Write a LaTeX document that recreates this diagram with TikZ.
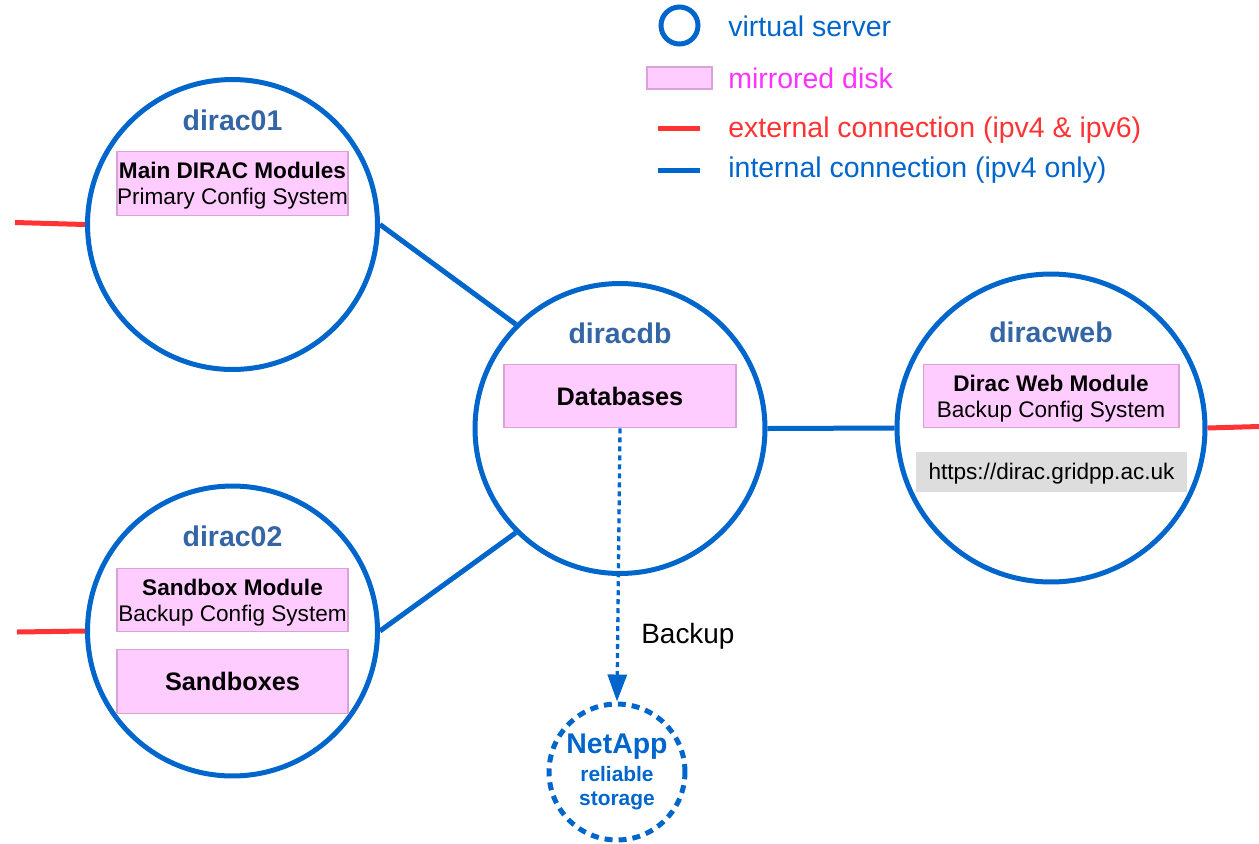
\documentclass[tikz,border=0pt]{standalone}
\usepackage{fontspec}
\setmainfont{Liberation Sans}
\usetikzlibrary{arrows.meta}
\definecolor{srv}{HTML}{0066CC}
\definecolor{lbl}{HTML}{3465A4}
\definecolor{extc}{HTML}{FF3333}
\definecolor{magc}{HTML}{FF33FF}
\definecolor{diskf}{HTML}{FFCCFF}
\definecolor{diskb}{HTML}{D9A3D9}
\definecolor{greyf}{HTML}{DDDDDD}
\newcommand\fLab{\fontsize{16.2}{19}\selectfont\bfseries}
\newcommand\fLeg{\fontsize{16.2}{19}\selectfont}
\newcommand\fBoxT{\fontsize{12.85}{14.7}\selectfont}
\newcommand\fBig{\fontsize{14.4}{17}\selectfont\bfseries}
\begin{document}
\begin{tikzpicture}[x=0.02cm,y=-0.02cm,
  server/.style={circle, draw=srv, line width=0.1cm, minimum size=5.8cm, inner sep=0},
  disk/.style={draw=diskb, fill=diskf, line width=0.6pt, inner sep=0, minimum width=4.62cm, minimum height=1.27cm, align=center, font=\fBoxT},
  twoline/.style={text depth=0pt},
  lab/.style={anchor=base, text=lbl, font=\fLab, inner sep=0},
  legtext/.style={anchor=base west, font=\fLeg, inner sep=0},
  extline/.style={draw=extc, line width=0.1cm},
  intline/.style={draw=srv, line width=0.1cm}]
\useasboundingbox (0,0) rectangle (1259,843);
% servers
\node[server] (d01) at (232.5,224.5) {};
\node[server] (d02) at (232.5,631) {};
\node[server] (ddb) at (620,428.5) {};
\node[server, minimum size=6.16cm] (dweb) at (1051,428) {};
% labels
\node[lab] (l01) at (232.5,130) {dirac01};
\node[lab] (l02) at (232.5,546) {dirac02};
\node[lab] (ldb) at (620,343) {diracdb};
\node[lab] (lweb) at (1051,342) {diracweb};
% disks
\node[disk, twoline] (b01) at (232.5,183.5) {\textbf{Main DIRAC Modules}\\Primary Config System};
\node[disk, twoline] (b02a) at (232.5,600) {\textbf{Sandbox Module}\\Backup Config System};
\node[disk, font=\fBig] (b02b) at (232.5,681.5) {Sandboxes};
\node[disk, font=\fBig, minimum width=4.64cm] (bdb) at (620,396) {Databases};
\node[disk, twoline, minimum width=5.12cm] (bweb) at (1051,396) {\textbf{Dirac Web Module}\\Backup Config System};
\node[fill=greyf, inner sep=0, minimum width=5.42cm, minimum height=0.8cm, text height=11pt, font=\fBoxT] (url) at (1051.5,472) {https://dirac.gridpp.ac.uk};
% internal connections
\draw[intline] (d01.east) -- (ddb.135);
\draw[intline] (d02.east) -- (ddb.225);
\draw[intline] (ddb.east) -- (dweb.west);
% external connections
\coordinate (e1) at (15,222.5);
\coordinate (e2) at (17,632);
\coordinate (e3) at (1259,426.5);
\draw[extline] (e1) -- (d01.west);
\draw[extline] (e2) -- (d02.west);
\draw[extline] (dweb.east) -- (e3);
% NetApp
\node[circle, draw=srv, line width=0.1cm, dash pattern=on 0.16cm off 0.12cm, minimum size=2.72cm, inner sep=0, align=center, text=srv, font=\fontsize{11.9}{13.6}\selectfont\bfseries] (na) at (617,772)
  {{\fontsize{16.2}{19}\selectfont NetApp}\\[2.3pt]reliable\\storage};
\draw[srv, line width=0.066cm, dash pattern=on 0.1cm off 0.08cm, -{Triangle[length=0.54cm,width=0.38cm]}] (bdb.south) -- (na.north);
\node[anchor=base west, inner sep=0, font=\fontsize{15.9}{19}\selectfont] (bk) at (641,643) {Backup};
% legend
\node[circle, draw=srv, line width=0.1cm, minimum size=0.74cm, inner sep=0] (lgc) at (679.5,25.5) {};
\node[legtext, text=srv] (lgt1) at (728,36) {virtual server};
\node[draw=diskb, fill=diskf, line width=0.6pt, minimum width=1.3cm, minimum height=0.44cm, inner sep=0] (lgb) at (679.5,78) {};
\node[legtext, text=magc] (lgt2) at (728,88) {mirrored disk};
\coordinate (lr1) at (658,128);
\coordinate (lr2) at (700,128);
\draw[extline] (lr1) -- (lr2);
\node[legtext, text=extc] (lgt3) at (728,137) {external connection (ipv4 \& ipv6)};
\coordinate (lb1) at (658,170);
\coordinate (lb2) at (700,170);
\draw[intline] (lb1) -- (lb2);
\node[legtext, text=srv] (lgt4) at (728,177) {internal connection (ipv4 only)};
\end{tikzpicture}
\end{document}
